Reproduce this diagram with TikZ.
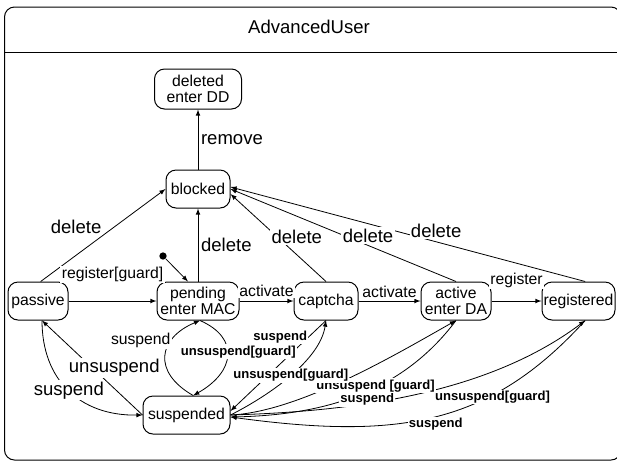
\documentclass[tikz,border=0pt]{standalone}
\usepackage{fontspec}
\setmainfont{Liberation Sans}
\usepackage{tikz}

\begin{document}
\begin{tikzpicture}[x=0.75pt, y=0.75pt, >=latex, line width=0.6pt,
    every node/.style={font=\fontsize{11.8}{11.8}\selectfont, inner sep=1pt},
    stbox/.style={draw, line width=0.75pt, rounded corners=7.5pt, align=center, minimum height=28.5pt},
    lbl/.style={fill=white},
    biglbl/.style={fill=white, font=\fontsize{13.9}{14}\selectfont},
    boldlbl/.style={fill=white, font=\fontsize{9.8}{10}\selectfont\bfseries}]
      \useasboundingbox (0,0) rectangle (617,-462);
      \draw[rounded corners=7.5pt, line width=0.75pt] (4.5,-7) rectangle (621,-460);
      \draw[line width=0.75pt] (4.5,-52) -- (621,-52);
      \node (0) at (309,-27) [font=\fontsize{13.9}{14}\selectfont] {AdvancedUser};

      \node (1) at (198,-89) [stbox, minimum width=65.25pt, minimum height=30pt] {deleted\\enter DD};
      \node (2) at (198,-189) [stbox, minimum width=48pt] {blocked};
      \node (3) at (38,-301) [stbox, minimum width=45pt] {passive};
      \node (4) at (198,-301) [stbox, minimum width=61.5pt] {pending\\enter MAC};
      \node (5) at (326,-301) [stbox, minimum width=48pt] {captcha};
      \node (6) at (456,-301) [stbox, minimum width=52.5pt] {active\\enter DA};
      \node (7) at (578.5,-301) [stbox, minimum width=54.75pt] {registered};
      \node (8) at (186.5,-415) [stbox, minimum width=65.25pt] {suspended};
      \node (9) at (163,-256) [circle, fill, inner sep=0pt, minimum size=5.5pt] {};

      \draw[->] (2) -- (1) node[biglbl, midway, right=1pt] {remove};
      \draw[->] ([xshift=2pt]3.north) -- (2.west) node[biglbl, midway, above left] {delete};
      \draw[->] (4) -- (2) node[biglbl, midway, right=1pt] {delete};
      \draw[->] ([xshift=5pt]7.north) -- ([yshift=1.5pt]2.east) node[biglbl, pos=.42, shift={(0,11)}] {delete};
      \draw[->] (6.north) -- (2.east) node[biglbl, pos=.39, shift={(0,10)}] {delete};
      \draw[->] (5.north) -- ([yshift=-3.75pt]2.east) node[biglbl, pos=.4, shift={(9,10)}] {delete};

      \draw[->] (9) -- ([xshift=-7.5pt]4.north);
      \draw[->] (3) -- (4) node[lbl, midway, above=13pt] {register[guard]};
      \draw[->] (4) -- (5) node[lbl, midway, above=2pt] {activate};
      \draw[->] (5) -- (6) node[lbl, midway, above=1pt] {activate};
      \draw[->] (6) -- (7) node[lbl, midway, above=9pt] {register};

      \draw[->] (8.west) -- ([xshift=3pt]3.south) node[biglbl, midway, shift={(22,0)}] {unsuspend};
      \draw[->] ([xshift=3pt]3.south) .. controls (42,-380) and (80,-416) .. (8.west) node[biglbl, pos=.5] {suspend};

      \draw[->] ([xshift=5pt]7.south) .. controls (490,-425) and (400,-440) .. ([yshift=-1.5pt]8.east) node[boldlbl, pos=.5, below=0pt] {suspend};
      \draw[->] (8.east) .. controls (330,-412) and (480,-400) .. ([xshift=5pt]7.south) node[boldlbl, pos=.68, shift={(19,-19)}] {unsuspend[guard]};
      \draw[->] (6.south) .. controls (400,-395) and (320,-415) .. ([yshift=-1.5pt]8.east) node[boldlbl, pos=.45, below=0pt] {suspend};
      \draw[->] (8.east) .. controls (300,-412) and (400,-352) .. (6.south) node[boldlbl, pos=.55, below=4pt, shift={(15,0)}] {unsuspend [guard]};
      \draw[->] (5.south) -- ([yshift=3pt]8.east) node[boldlbl, pos=.18, left=0pt] {suspend};

      \draw[->] ([xshift=5pt]8.north) .. controls (152,-372) and (158,-338) .. ([xshift=1.5pt]4.south) node[lbl, pos=.7, left=0pt] {suspend};
      \draw[->] ([xshift=1.5pt]4.south) .. controls (240,-338) and (235,-372) .. ([xshift=5pt]8.north) node[boldlbl, pos=.5, shift={(11,4)}] {unsuspend[guard]};
      \draw[->] (8.east) .. controls (270,-395) and (320,-360) .. (5.south) node[boldlbl, pos=.5] {unsuspend[guard]};
    \end{tikzpicture}
\end{document}
